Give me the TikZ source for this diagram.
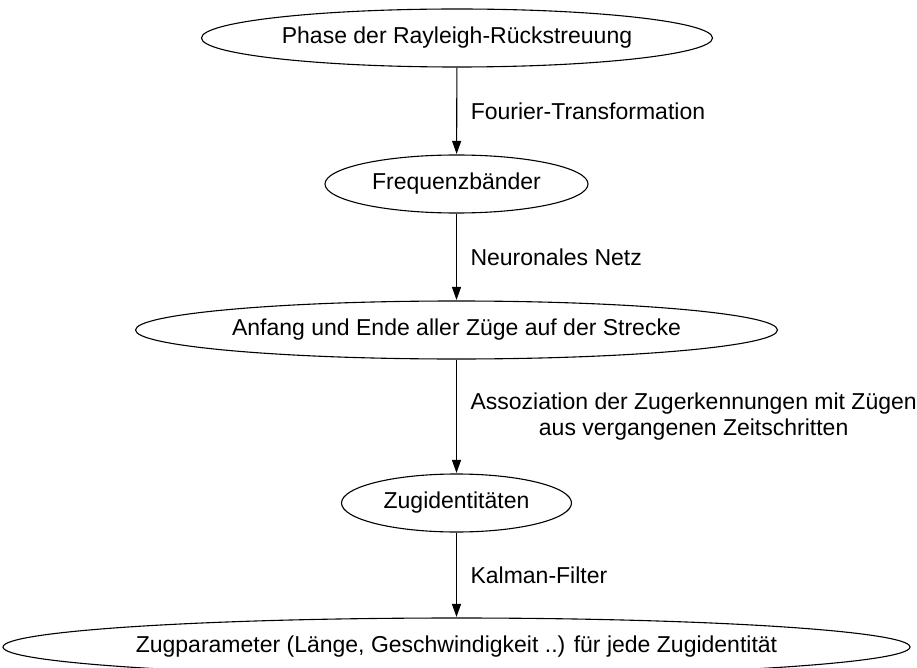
\documentclass[tikz,border=0pt]{standalone}
\usepackage{fontspec}
\setmainfont{Liberation Sans}
\usetikzlibrary{shapes.geometric, arrows.meta}

\begin{document}
\begin{tikzpicture}[x=1pt, y=-1pt, line width=1.1pt,
  zustand/.style={ellipse, draw, inner sep=0pt, minimum height=58pt,
    font=\fontsize{23}{26}\selectfont},
  pfeil/.style={-{Triangle[length=13pt, width=9pt]}, shorten >=0.5pt},
  aktion/.style={midway, anchor=west, xshift=13.5pt, inner sep=0pt,
    align=center, font=\fontsize{23}{26}\selectfont},
]
  \useasboundingbox (0,0) rectangle (917,668);
  % Zustaende der Verarbeitungskette
  \node[zustand, minimum width=511pt] (phase)  at (457,38)    {Phase der Rayleigh-Rückstreuung};
  \node[zustand, minimum width=263pt] (band)   at (456.5,184) {Frequenzbänder};
  \node[zustand, minimum width=642pt] (zuege)  at (456.5,330) {Anfang und Ende aller Züge auf der Strecke};
  \node[zustand, minimum width=230pt] (ident)  at (456.5,503) {Zugidentitäten};
  \node[zustand, minimum width=893pt] (param)  at (456.5,647) {Zugparameter (Länge, Geschwindigkeit ..) für jede Zugidentität};
  \draw[pfeil] (phase) -- (band)  node[aktion] {Fourier-Transformation};
  \draw[pfeil] (band)  -- (zuege) node[aktion] {Neuronales Netz};
  \draw[pfeil] (zuege) -- (ident) node[aktion] {Assoziation der Zugerkennungen mit Zügen\\aus vergangenen Zeitschritten};
  \draw[pfeil] (ident) -- (param) node[aktion] {Kalman-Filter};
\end{tikzpicture}
\end{document}
